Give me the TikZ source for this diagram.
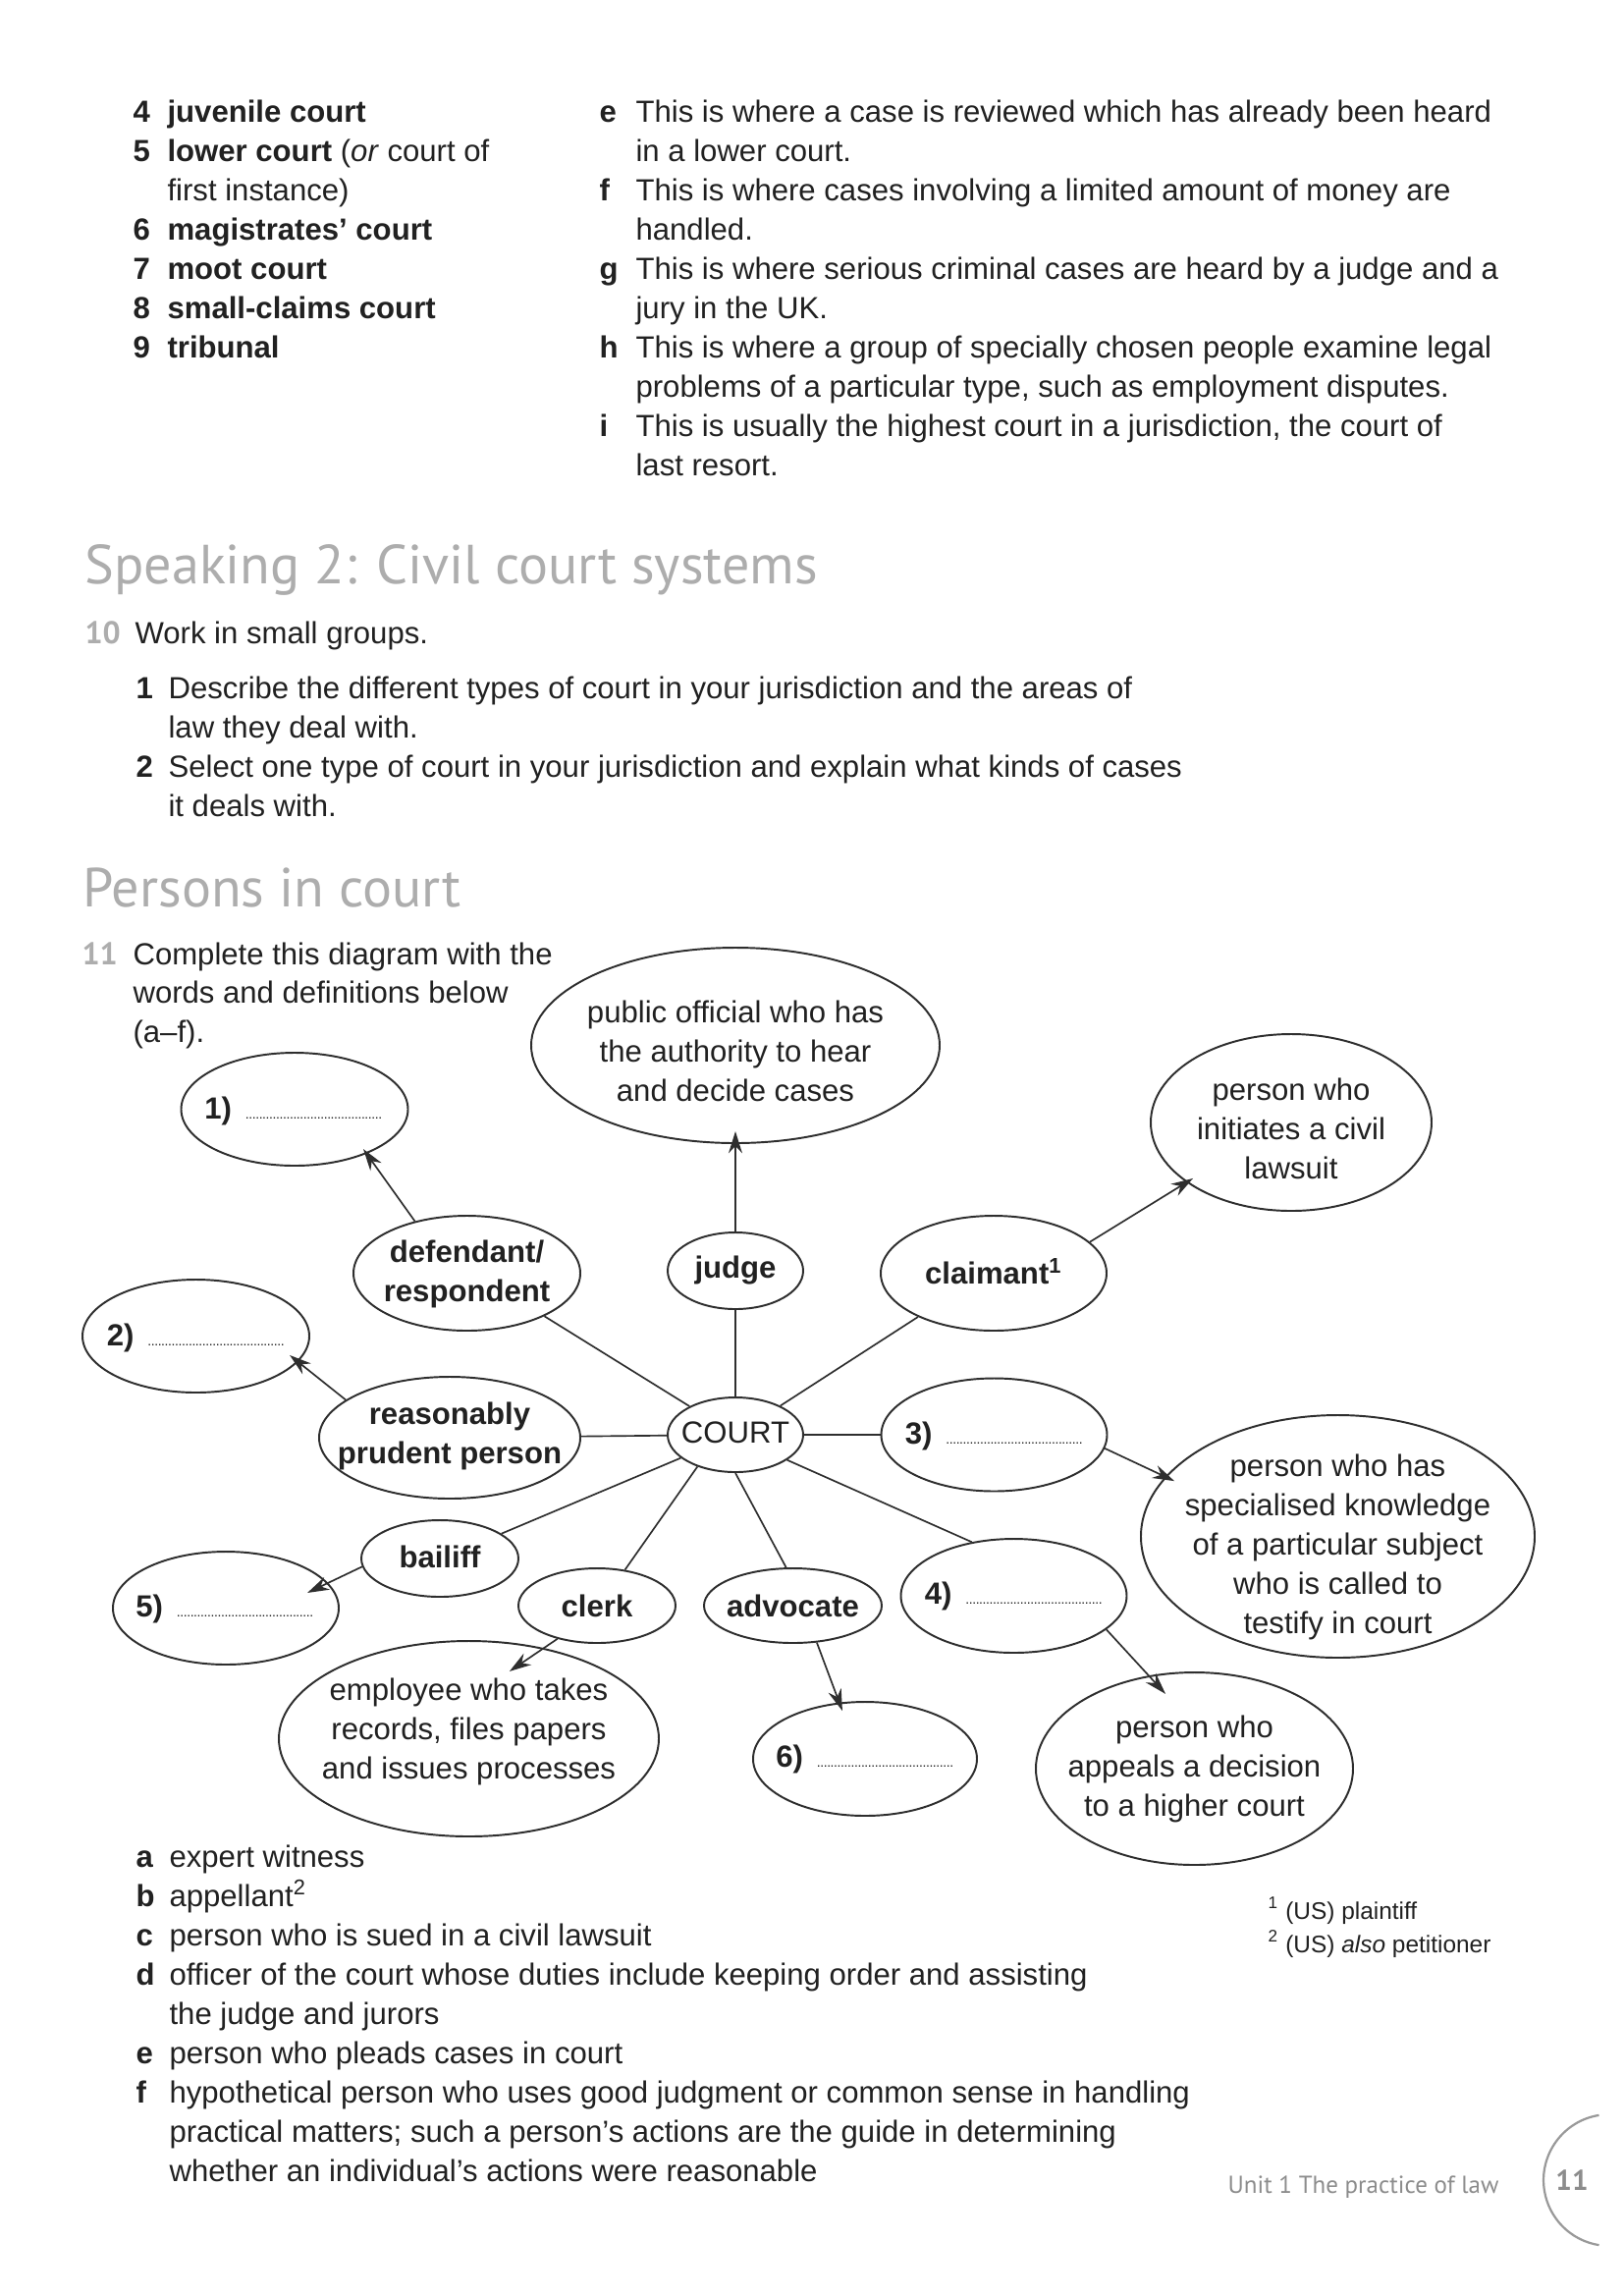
\documentclass[tikz,border=0pt]{standalone}
\usepackage{fontspec}
\setmainfont{Liberation Sans}
\newfontfamily\headfont{PT Sans}
\usetikzlibrary{shapes.geometric,arrows.meta}
\definecolor{ink}{gray}{0.13}
\definecolor{linec}{gray}{0.18}
\definecolor{headc}{gray}{0.68}
\newcommand\bodyfont{\fontsize{11.2}{14.4}\selectfont}
\newcommand\blankline{{\fontsize{5}{5}\selectfont\leaders\hbox to 1.25pt{\hss.\hss}\hskip 51pt}}
\tikzset{
  txt/.style={anchor=base west, inner sep=0pt, font=\bodyfont, text=ink},
  ell/.style 2 args={draw=linec, line width=0.7pt, ellipse, inner sep=0pt, minimum width=#1*0.72pt, minimum height=#2*0.72pt},
  lab/.style={inner sep=0pt, font=\bodyfont, text=ink, align=center},
  con/.style={draw=linec, line width=0.6pt},
  arr/.style={con, -{Stealth[length=8pt,width=5pt]}}
}
\begin{document}
\begin{tikzpicture}[x=0.36pt, y=-0.36pt]
\fill[white] (0,0) rectangle (1653,2338);
\useasboundingbox (0,0) rectangle (1653,2338);

% ---------- top lists ----------
\node[txt] (n4) at (135,124) {\textbf{4}};
\node[txt] (l4) at (170,124) {\textbf{juvenile court}};
\node[txt] (n5) at (135,164) {\textbf{5}};
\node[txt] (l5) at (170,164) {\textbf{lower court} (\textit{or} court of};
\node[txt] (l5b) at (170,204) {first instance)};
\node[txt] (n6) at (135,244) {\textbf{6}};
\node[txt] (l6) at (170,244) {\textbf{magistrates’ court}};
\node[txt] (n7) at (135,284) {\textbf{7}};
\node[txt] (l7) at (170,284) {\textbf{moot court}};
\node[txt] (n8) at (135,324) {\textbf{8}};
\node[txt] (l8) at (170,324) {\textbf{small-claims court}};
\node[txt] (n9) at (135,364) {\textbf{9}};
\node[txt] (l9) at (170,364) {\textbf{tribunal}};

\node[txt] (le) at (610,124) {\textbf{e}};
\node[txt] (re1) at (647,124) {This is where a case is reviewed which has already been heard};
\node[txt] (re2) at (647,164) {in a lower court.};
\node[txt] (lf) at (610,204) {\textbf{f}};
\node[txt] (rf1) at (647,204) {This is where cases involving a limited amount of money are};
\node[txt] (rf2) at (647,244) {handled.};
\node[txt] (lg) at (610,284) {\textbf{g}};
\node[txt] (rg1) at (647,284) {This is where serious criminal cases are heard by a judge and a};
\node[txt] (rg2) at (647,324) {jury in the UK.};
\node[txt] (lh) at (610,364) {\textbf{h}};
\node[txt] (rh1) at (647,364) {This is where a group of specially chosen people examine legal};
\node[txt] (rh2) at (647,404) {problems of a particular type, such as employment disputes.};
\node[txt] (li) at (610,444) {\textbf{i}};
\node[txt] (ri1) at (647,444) {This is usually the highest court in a jurisdiction, the court of};
\node[txt] (ri2) at (647,484) {last resort.};

% ---------- Speaking 2 ----------
\node[txt, font=\headfont\fontsize{20.2}{22}\selectfont, text=headc] (h1) at (86,594) {Speaking 2: Civil court systems};
\node[txt, font=\headfont\bfseries\fontsize{11.5}{14}\selectfont, text=headc] (q10) at (86,655) {10};
\node[txt] (q10t) at (137,655) {Work in small groups.};
\node[txt] (s1) at (138,711) {\textbf{1}};
\node[txt] (s1a) at (171,711) {Describe the different types of court in your jurisdiction and the areas of};
\node[txt] (s1b) at (171,751) {law they deal with.};
\node[txt] (s2) at (138,791) {\textbf{2}};
\node[txt] (s2a) at (171,791) {Select one type of court in your jurisdiction and explain what kinds of cases};
\node[txt] (s2b) at (171,831) {it deals with.};

% ---------- Persons in court ----------
\node[txt, font=\headfont\fontsize{20.2}{22}\selectfont, text=headc] (h2) at (84,923) {Persons in court};
\node[txt, font=\headfont\bfseries\fontsize{11.5}{14}\selectfont, text=headc] (q11) at (83,982) {11};
\node[txt] (q11a) at (135,982) {Complete this diagram with the};
\node[txt] (q11b) at (135,1021) {words and definitions below};
\node[txt] (q11c) at (135,1061) {(a–f).};

% ---------- diagram ellipses ----------
\node[ell={208}{99.5}] (jdef) at (749,1064.5) {};
\node[ell={115.5}{57.5}] (one) at (300,1129.5) {};
\node[ell={143}{90}] (init) at (1315,1143) {};
\node[ell={115.5}{58.5}] (def) at (475.5,1296.5) {};
\node[ell={69}{39}] (judge) at (749,1294) {};
\node[ell={115}{58.5}] (claim) at (1012,1296.5) {};
\node[ell={115.5}{57.5}] (two) at (199.5,1360.5) {};
\node[ell={133}{62}] (reas) at (458,1464) {};
\node[ell={69}{38}] (court) at (749,1461) {};
\node[ell={115}{57.5}] (three) at (1012.5,1461) {};
\node[ell={200.5}{123.5}] (exp) at (1362.5,1564.5) {};
\node[ell={80}{39}] (bail) at (448,1587) {};
\node[ell={115}{57.5}] (five) at (230,1637.5) {};
\node[ell={80}{38}] (clerk) at (608,1635) {};
\node[ell={90.5}{38}] (adv) at (807.5,1635) {};
\node[ell={115}{58}] (four) at (1032.5,1625) {};
\node[ell={193.5}{99.5}] (cdef) at (477.5,1770.5) {};
\node[ell={114}{58}] (six) at (881,1791) {};
\node[ell={161.5}{98}] (app) at (1216.5,1801) {};

% ---------- diagram texts ----------
\node[lab] (jdefT) at (749,1070) {public official who has\\the authority to hear\\and decide cases};
\node[lab] (oneT) at (300,1131) {\textbf{1)}\hspace{5pt}\blankline};
\node[lab] (initT) at (1315,1149) {person who\\initiates a civil\\lawsuit};
\node[lab, font=\bodyfont\bfseries] (defT) at (475.5,1297) {defendant/\\respondent};
\node[lab, font=\bodyfont\bfseries] (judgeT) at (749,1294) {judge};
\node[lab, font=\bodyfont\bfseries] (claimT) at (1012,1295) {claimant\textsuperscript{1}};
\node[lab] (twoT) at (199.5,1362) {\textbf{2)}\hspace{4.3pt}\blankline};
\node[lab, font=\bodyfont\bfseries] (reasT) at (458,1462) {reasonably\\prudent person};
\node[lab] (courtT) at (749,1459) {COURT};
\node[lab] (threeT) at (1012.5,1462) {\textbf{3)}\hspace{4.3pt}\blankline};
\node[lab] (expT) at (1362.5,1575) {person who has\\specialised knowledge\\of a particular subject\\who is called to\\testify in court};
\node[lab, font=\bodyfont\bfseries] (bailT) at (448,1585) {bailiff};
\node[lab] (fiveT) at (230,1638) {\textbf{5)}\hspace{5pt}\blankline};
\node[lab, font=\bodyfont\bfseries] (clerkT) at (608,1635) {clerk};
\node[lab, font=\bodyfont\bfseries] (advT) at (807.5,1635) {advocate};
\node[lab] (fourT) at (1032.5,1625) {\textbf{4)}\hspace{4.3pt}\blankline};
\node[lab] (cdefT) at (477.5,1763) {employee who takes\\records, files papers\\and issues processes};
\node[lab] (sixT) at (881,1791) {\textbf{6)}\hspace{4.3pt}\blankline};
\node[lab] (appT) at (1216.5,1801) {person who\\appeals a decision\\to a higher court};

% ---------- connectors ----------
\draw[arr] (def.135) -- ([xshift=25.2pt,yshift=-14.6pt]one.center);
\draw[arr] (judge) -- ([yshift=-31.5pt]jdef.center);
\draw[arr] (claim.18) -- ([xshift=-36pt,yshift=-20.5pt]init.center);
\draw[con] (def.-29) -- (court);
\draw[con] (judge) -- (court);
\draw[con] (claim.210) -- (court);
\draw[arr] (reas.160) -- ([xshift=34.4pt,yshift=-7pt]two.center);
\draw[con] (reas) -- (court);
\draw[con] (court) -- (three);
\draw[arr] (three.-7) -- ([xshift=-59.9pt,yshift=20.3pt]exp.center);
\draw[con] (court.203) -- (bail.22);
\draw[arr] (bail.186) -- ([xshift=29.9pt,yshift=5.6pt]five.center);
\draw[con] (court.220) -- (clerk.52);
\draw[con] (court.south) -- (adv.100);
\draw[con] (court.-26) -- (four.128);
\draw[arr] (clerk.220) -- ([xshift=14.9pt,yshift=24.7pt]cdef.center);
\draw[arr] (adv.-57) -- ([xshift=-8.3pt,yshift=17.6pt]six.center);
\draw[arr] (four.-20) -- ([xshift=-10.6pt,yshift=27.4pt]app.center);

% ---------- bottom list ----------
\node[txt] (ba) at (138,1901) {\textbf{a}};
\node[txt] (bat) at (172,1901) {expert witness};
\node[txt] (bb) at (138,1941) {\textbf{b}};
\node[txt] (bbt) at (172,1941) {appellant\textsuperscript{2}};
\node[txt] (bc) at (138,1981) {\textbf{c}};
\node[txt] (bct) at (172,1981) {person who is sued in a civil lawsuit};
\node[txt] (bd) at (138,2021) {\textbf{d}};
\node[txt] (bdt) at (172,2021) {officer of the court whose duties include keeping order and assisting};
\node[txt] (bdt2) at (172,2061) {the judge and jurors};
\node[txt] (be) at (138,2101) {\textbf{e}};
\node[txt] (bet) at (172,2101) {person who pleads cases in court};
\node[txt] (bf) at (138,2141) {\textbf{f}};
\node[txt] (bft) at (172,2141) {hypothetical person who uses good judgment or common sense in handling};
\node[txt] (bft2) at (172,2181) {practical matters; such a person’s actions are the guide in determining};
\node[txt] (bft3) at (172,2221) {whether an individual’s actions were reasonable};

% ---------- footnotes ----------
\node[txt, font=\fontsize{8.8}{10}\selectfont] (fn1) at (1291,1954) {\textsuperscript{1} (US) plaintiff};
\node[txt, font=\fontsize{8.8}{10}\selectfont] (fn2) at (1291,1988) {\textsuperscript{2} (US) \textit{also} petitioner};

% ---------- page footer ----------
\node[inner sep=0pt, anchor=base east, font=\headfont\fontsize{9}{12}\selectfont, text=black!45] (unit) at (1527,2233) {Unit 1 The practice of law};
\node[inner sep=0pt, font=\headfont\bfseries\fontsize{10.5}{12}\selectfont, text=black!45] (pg) at (1601,2220) {11};
\draw[black!40, line width=0.8pt] (1639,2220) ++(99:24.1pt) arc[start angle=99, end angle=261, radius=24.1pt];
\end{tikzpicture}
\end{document}
